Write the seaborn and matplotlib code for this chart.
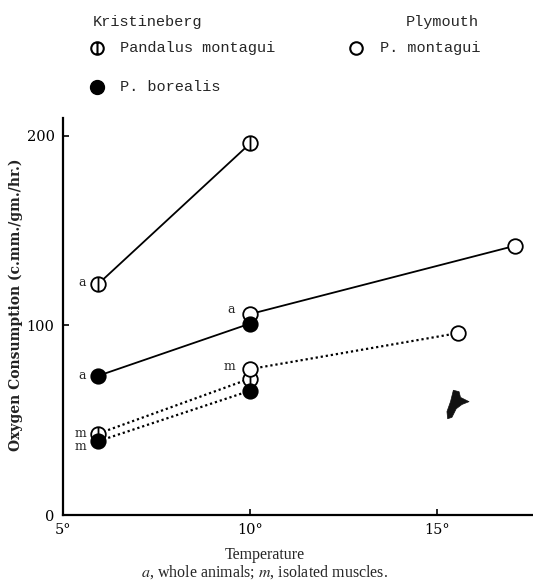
import matplotlib
matplotlib.use("Agg")
import matplotlib.pyplot as plt
import seaborn as sns
import pandas as pd
from matplotlib.path import Path
from matplotlib.lines import Line2D

# ---------------- data ----------------
k_temp = [5.95, 10.0]
k_montagui_whole = [122, 196]
k_borealis_whole = [73.5, 101]
k_montagui_muscle = [43, 72]
k_borealis_muscle = [39, 65.6]

p_temp_whole = [10.0, 17.07]
p_montagui_whole = [106, 142]
p_temp_muscle = [10.0, 15.56]
p_montagui_muscle = [77, 96]

# ink smudge visible in the original figure
smudge_temp = [15.48]
smudge_val = [58.5]

x_ticks = [5, 10, 15]
x_tick_labels = ["5°", "10°", "15°"]
y_ticks = [0, 100, 200]

# ---------------- style ----------------
sns.set_theme(style="ticks")
plt.rcParams["font.family"] = ["DejaVu Serif"]
plt.rcParams["mathtext.fontset"] = "stix"

bar_circle = Path.make_compound_path(
    Path.unit_circle(),
    Path([[0, -1], [0, 1]], [Path.MOVETO, Path.LINETO]),
)
blob_verts = [(-0.15, 1.0), (0.25, 0.9), (0.35, 0.5), (0.95, 0.2), (0.45, 0.0),
              (0.05, -0.3), (-0.25, -0.9), (-0.55, -1.0), (-0.6, -0.5),
              (-0.35, 0.2), (-0.15, 1.0)]
blob = Path(blob_verts, [Path.MOVETO] + [Path.LINETO] * (len(blob_verts) - 2)
            + [Path.CLOSEPOLY])

fig = plt.figure(figsize=(5.33, 5.86), dpi=100)
ax = fig.add_axes([0.118, 0.121, 0.882, 0.678])

solid = dict(color="black", linewidth=1.3, linestyle="-")
dotted = dict(color="black", linewidth=1.6, linestyle=(0, (1.0, 1.3)))

series = [
    (k_temp, k_montagui_whole, solid, "bar"),
    (k_temp, k_borealis_whole, solid, "filled"),
    (p_temp_whole, p_montagui_whole, solid, "open"),
    (k_temp, k_montagui_muscle, dotted, "bar"),
    (p_temp_muscle, p_montagui_muscle, dotted, "open"),
    (k_temp, k_borealis_muscle, dotted, "filled"),
]

for xs, ys, ls, _ in series:
    df = pd.DataFrame({"t": xs, "o": ys})
    sns.lineplot(data=df, x="t", y="o", ax=ax, zorder=2, **ls)

msize = 110
z = 3
for xs, ys, _, kind in series:
    df = pd.DataFrame({"t": xs, "o": ys})
    if kind == "filled":
        sns.scatterplot(data=df, x="t", y="o", ax=ax, s=msize, color="black",
                        edgecolor="black", linewidth=1.2, zorder=z + 2)
    elif kind == "open":
        sns.scatterplot(data=df, x="t", y="o", ax=ax, s=msize, facecolor="white",
                        edgecolor="black", linewidth=1.3, zorder=z + 1)
    else:
        sns.scatterplot(data=df, x="t", y="o", ax=ax, s=msize, marker=bar_circle,
                        facecolor="white", edgecolor="black", linewidth=1.3,
                        zorder=z)

sns.scatterplot(x=smudge_temp, y=smudge_val, ax=ax, s=420, marker=blob,
                color="#111111", edgecolor="#111111", linewidth=0.5, zorder=z)

# point annotations
ann = dict(fontsize=9, family="DejaVu Serif", ha="right", va="center",
           textcoords="offset points")
ax.annotate("a", (k_temp[0], k_montagui_whole[0]), xytext=(-9, 1), **ann)
ax.annotate("a", (k_temp[0], k_borealis_whole[0]), xytext=(-9, 0), **ann)
ax.annotate("a", (p_temp_whole[0], p_montagui_whole[0]), xytext=(-11, 3), **ann)
ax.annotate("m", (p_temp_muscle[0], p_montagui_muscle[0]), xytext=(-11, 2), **ann)
ax.annotate("m", (k_temp[0], k_montagui_muscle[0]), xytext=(-9, 0), **ann)
ax.annotate("m", (k_temp[0], k_borealis_muscle[0]), xytext=(-9, -4), **ann)

# axes
ax.set_xlim(5.05, 17.55)
ax.set_ylim(0, 209.5)
ax.set_xticks(x_ticks)
ax.set_xticklabels(x_tick_labels)
ax.set_yticks(y_ticks)
ax.tick_params(direction="in", length=4, width=1.2, labelsize=10.5, pad=6,
               colors="black")
for s in ["top", "right"]:
    ax.spines[s].set_visible(False)
for s in ["left", "bottom"]:
    ax.spines[s].set_linewidth(1.6)
    ax.spines[s].set_color("black")
ax.set_xlabel("")
ax.set_ylabel("Oxygen Consumption (c.mm./gm./hr.)", fontsize=10, fontweight="bold",
              color="#222222")
ax.yaxis.set_label_coords(-0.085, 0.53)

fig.text(0.497, 0.053, "Temperature", ha="center", va="center",
         family="Liberation Serif", fontsize=11.5)
fig.text(0.497, 0.023, "$a$, whole animals; $m$, isolated muscles.", ha="center",
         va="center", family="Liberation Serif", fontsize=11.5)

# legend block
lax = fig.add_axes([0, 0.82, 1, 0.18])
lax.set_xlim(0, 533)
lax.set_ylim(105.5, 0)
lax.axis("off")
mono = dict(family="Liberation Mono", fontsize=11, va="center", ha="left")
lax.text(147, 22, "Kristineberg", ha="center", va="center",
         family="Liberation Mono", fontsize=11)
lax.text(442, 22, "Plymouth", ha="center", va="center",
         family="Liberation Mono", fontsize=11)
lax.add_line(Line2D([97], [48], marker=bar_circle, markersize=9,
                    markerfacecolor="white", markeredgecolor="black",
                    markeredgewidth=1.5, linestyle="none"))
lax.text(120, 48, "Pandalus montagui", **mono)
lax.add_line(Line2D([356], [48], marker="o", markersize=9,
                    markerfacecolor="white", markeredgecolor="black",
                    markeredgewidth=1.5, linestyle="none"))
lax.text(380, 48, "P. montagui", **mono)
lax.add_line(Line2D([97], [87], marker="o", markersize=10,
                    markerfacecolor="black", markeredgecolor="black",
                    linestyle="none"))
lax.text(120, 87, "P. borealis", **mono)

fig.savefig("out.png", dpi=100, facecolor="white")
